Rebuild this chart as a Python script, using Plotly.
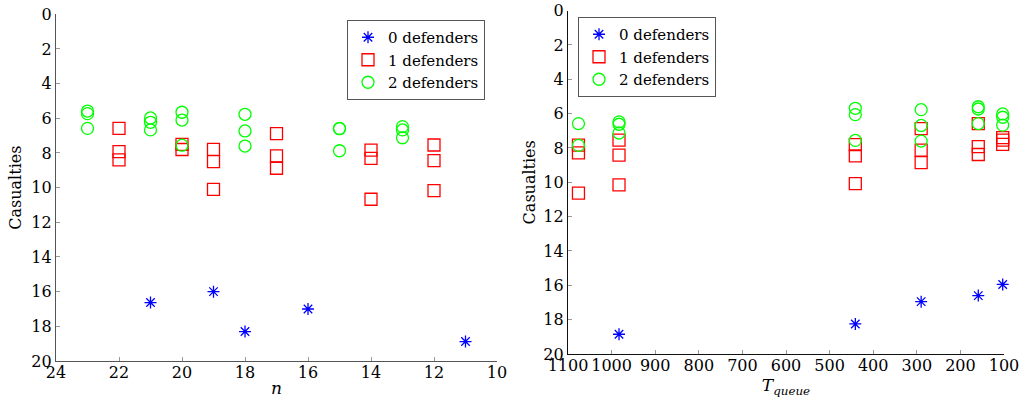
import plotly.graph_objects as go
from plotly.subplots import make_subplots

# ---- data: left panel (n) ----
n_0 = [21, 19, 18, 16, 11]
cas_n_0 = [16.63, 16.0, 18.3, 17.0, 18.88]
n_1 = [22, 22, 22, 20, 20, 19, 19, 19, 17, 17, 17, 14, 14, 14, 12, 12, 12]
cas_n_1 = [6.58, 7.92, 8.40, 7.5, 7.8, 7.79, 8.5, 10.1, 6.88, 8.17, 8.88, 7.83, 8.31, 10.67, 7.54, 8.44, 10.17]
n_2 = [23, 23, 23, 21, 21, 21, 20, 20, 20, 18, 18, 18, 15, 15, 15, 13, 13, 13]
cas_n_2 = [5.58, 5.73, 6.58, 5.98, 6.23, 6.67, 5.65, 6.10, 7.55, 5.77, 6.73, 7.6, 6.58, 6.6, 7.87, 6.48, 6.67, 7.12]

# ---- data: right panel (T_queue) ----
t_0 = [983, 441, 290, 159, 103]
cas_t_0 = [18.85, 18.25, 16.95, 16.6, 15.95]
t_1 = [1076, 1076, 1076, 983, 983, 983, 441, 441, 441, 290, 290, 290, 159, 159, 159, 103, 103, 103]
cas_t_1 = [7.83, 8.29, 10.63, 7.54, 8.42, 10.15, 7.81, 8.46, 10.08, 6.87, 8.13, 8.85, 6.58, 7.92, 8.38, 7.4, 7.54, 7.79]
t_2 = [1076, 1076, 983, 983, 983, 441, 441, 441, 290, 290, 290, 159, 159, 159, 103, 103, 103]
cas_t_2 = [6.58, 7.85, 6.48, 6.62, 7.13, 5.69, 6.06, 7.56, 5.77, 6.69, 7.6, 5.6, 5.73, 6.58, 6.02, 6.21, 6.67]

series_names = ["0 defenders", "1 defenders", "2 defenders"]
y_ticks = list(range(0, 21, 2))
n_ticks = list(range(10, 25, 2))
t_ticks = list(range(100, 1101, 100))

FONT = "DejaVu Serif"
W, H = 1022, 406

styles = [
    dict(symbol="asterisk-open", size=10, color="#0000ff", line=dict(color="#0000ff", width=1.3)),
    dict(symbol="square-open", size=12, color="#ff0000", line=dict(color="#ff0000", width=1.3)),
    dict(symbol="circle-open", size=12, color="#00ff00", line=dict(color="#00ff00", width=1.3)),
]

fig = make_subplots(rows=1, cols=2)

left = [(n_0, cas_n_0), (n_1, cas_n_1), (n_2, cas_n_2)]
right = [(t_0, cas_t_0), (t_1, cas_t_1), (t_2, cas_t_2)]
for i, (xs, ys) in enumerate(left):
    fig.add_trace(go.Scatter(x=xs, y=ys, mode="markers", name=series_names[i],
                             marker=styles[i], legend="legend", cliponaxis=False),
                  row=1, col=1)
for i, (xs, ys) in enumerate(right):
    fig.add_trace(go.Scatter(x=xs, y=ys, mode="markers", name=series_names[i],
                             marker=styles[i], legend="legend2", cliponaxis=False),
                  row=1, col=2)

axis_common = dict(showgrid=False, zeroline=False, showline=True,
                   linewidth=1.2, ticks="inside", ticklen=4, tickcolor="#999",
                   tickfont=dict(family=FONT, size=16, color="black"), mirror=False,
                   automargin=False)

fig.update_xaxes(ticklabelstandoff=-3, **axis_common)
fig.update_yaxes(**axis_common)

fig.update_layout(
    width=W, height=H,
    margin=dict(l=0, r=0, t=0, b=0, autoexpand=False),
    paper_bgcolor="white", plot_bgcolor="white",
    font=dict(family=FONT, size=16, color="black"),
    showlegend=True,
    xaxis=dict(domain=[56 / W, 497 / W], range=[24, 10], tickvals=n_ticks, linecolor="#555",
               title=dict(text="<i>n</i>", standoff=0, font=dict(family=FONT, size=17))),
    yaxis=dict(domain=[1 - 361 / H, 1 - 14.3 / H], range=[20, 0], tickvals=y_ticks, linecolor="#555",
               title=dict(text="Casualties", standoff=5, font=dict(family=FONT, size=16))),
    xaxis2=dict(domain=[568 / W, 1004 / W], range=[1100, 100], tickvals=t_ticks, linecolor="#111",
                title=dict(text="<i>T</i><sub><i>queue</i></sub>", standoff=0,
                           font=dict(family=FONT, size=17))),
    yaxis2=dict(domain=[1 - 354 / H, 1 - 10.6 / H], range=[20, 0], tickvals=y_ticks, linecolor="#111",
                title=dict(text="Casualties", standoff=3, font=dict(family=FONT, size=16))),
    legend=dict(x=485 / W, y=1 - 20 / H, xanchor="right", yanchor="top",
                bgcolor="white", bordercolor="#555", borderwidth=1,
                font=dict(family=FONT, size=15), itemwidth=30, tracegroupgap=0),
    legend2=dict(x=578 / W, y=1 - 17 / H, xanchor="left", yanchor="top",
                 bgcolor="white", bordercolor="#555", borderwidth=1,
                 font=dict(family=FONT, size=15), itemwidth=30, tracegroupgap=0),
)

fig.write_html("out.html", config={"displayModeBar": False},
               post_script="document.body.style.margin='0';")
